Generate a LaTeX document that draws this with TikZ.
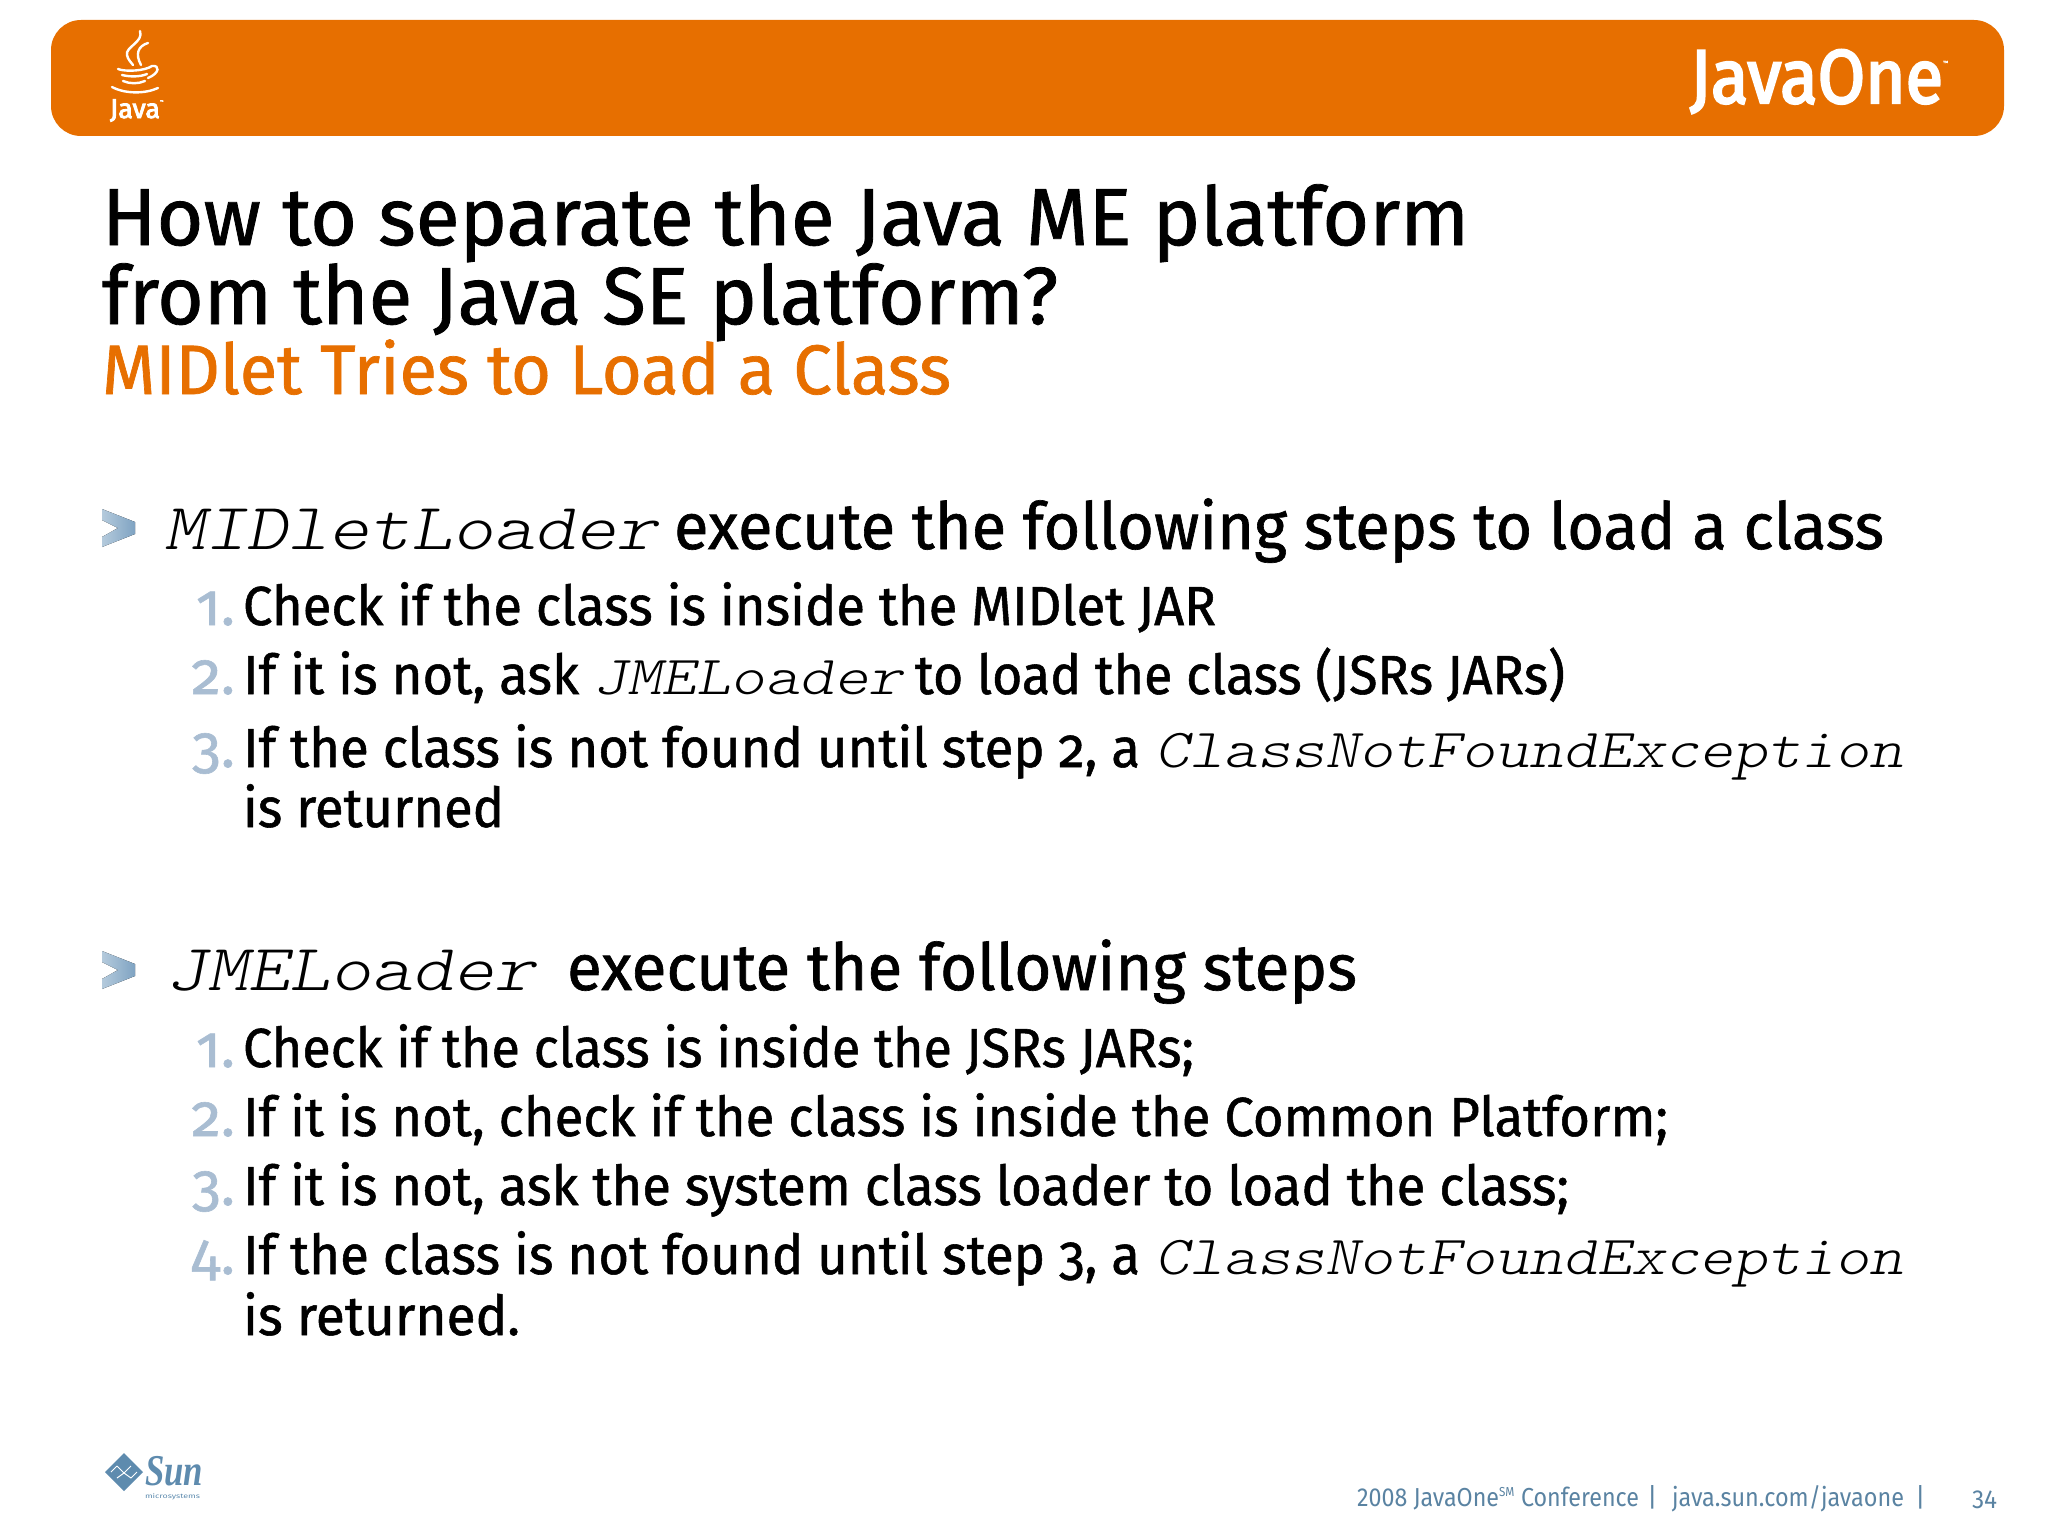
\documentclass[tikz,border=0pt]{standalone}
\usepackage{fontspec}
\usepackage{graphicx}
\setmainfont{Fira Sans}[FakeBold=1.0,Numbers=OldStyle]
\newfontfamily\regfont{Fira Sans}
\newfontfamily\logofont{Fira Sans}[FakeBold=3.2]
\newfontfamily\serifit{Liberation Serif}
\newcommand\codefont{\fontfamily{lmtt}\fontseries{l}\fontshape{sl}\selectfont}
\newcommand\fitw[2]{\resizebox{#1pt}{\height}{#2}}
\definecolor{bannerorange}{HTML}{E76F00}
\definecolor{numblue}{HTML}{A9BDD2}
\definecolor{footblue}{HTML}{5A83A2}
\definecolor{bulletdark}{HTML}{7FA3C2}
\definecolor{bulletlight}{HTML}{B4CADC}
\definecolor{sunblue}{HTML}{5E8BAE}
\tikzset{
  txt/.style={anchor=base west,inner sep=0pt,outer sep=0pt},
  titletxt/.style={txt,font=\fontsize{81}{81}\selectfont},
  subtxt/.style={txt,text=bannerorange,font=\fontsize{70}{70}\selectfont},
  headtxt/.style={txt,font=\fontsize{65}{65}\selectfont},
  headcode/.style={txt,font=\fontsize{66}{66}\selectfont\codefont},
  bodytxt/.style={txt,font=\fontsize{55}{55}\selectfont},
  bodycode/.style={txt,font=\fontsize{55}{55}\selectfont\codefont},
  numtxt/.style={anchor=base east,inner sep=0pt,outer sep=0pt,text=numblue,font=\fontsize{59}{59}\selectfont},
  foottxt/.style={txt,text=footblue,font=\fontsize{26}{26}\selectfont\regfont},
  steam/.style={draw=white,line width=2.4pt,line cap=round},
  chevron/.style={left color=bulletlight,right color=bulletdark,draw=none},
}
\begin{document}
\begin{tikzpicture}[x=1pt,y=-1pt]
\useasboundingbox (0,0) rectangle (2048,1536);
\fill[bannerorange,rounded corners=30pt] (51,20) rectangle (2004,136);
% Java logo
\draw[steam] (140,31) .. controls (144,42) and (125,47) .. (127,55) .. controls (128,60) and (131,62) .. (133,65);
\draw[steam] (148,43) .. controls (138,46) and (135,54) .. (141,65);
\draw[steam] (118,69) .. controls (125,72) and (145,71) .. (152,66) .. controls (160,65) and (160,73) .. (148,78);
\draw[steam] (122,75) .. controls (130,77) and (140,77) .. (147,74);
\draw[steam] (123,81) .. controls (130,84) and (138,84) .. (145,81);
\draw[steam] (112,87) .. controls (125,94) and (145,94) .. (158,88);
\node[txt,text=white,font=\fontsize{27}{27}\selectfont\logofont] (javaword) at (110,118) {\fitw{50}{Java}};
\node[txt,text=white,font=\fontsize{4}{4}\selectfont] (javatm) at (160,103) {™};
\node[txt,text=white,font=\fontsize{76}{76}\selectfont\logofont] (javaone) at (1690,103) {\fitw{253}{JavaOne}};
\node[txt,text=white,font=\fontsize{6}{6}\selectfont] (onetm) at (1943,65) {™};
% Title
\node[titletxt] (t1) at (102,245) {\fitw{1367}{How to separate the Java ME platform}};
\node[titletxt] (t2) at (102,324) {\fitw{956}{from the Java SE platform?}};
\node[subtxt] (t3) at (102,394) {\fitw{849}{MIDlet Tries to Load a Class}};
% Bullets
\fill[chevron] (102,509) -- (135,522) -- (135,534) -- (102,547) -- (102,537) -- (118,528) -- (102,520) -- cycle;
\fill[chevron] (102,951) -- (135,964) -- (135,976) -- (102,989) -- (102,979) -- (118,970) -- (102,962) -- cycle;
% First block
\node[headcode] (h1a) at (164,549) {\fitw{494}{MIDletLoader}};
\node[headtxt] (h1b) at (674,549) {\fitw{1210}{execute the following steps to load a class}};
\node[numtxt] (n11) at (235,625) {1.};
\node[bodytxt] (a1) at (243,625) {\fitw{973}{Check if the class is inside the MIDlet JAR}};
\node[numtxt] (n12) at (235,694) {2.};
\node[bodytxt] (a2a) at (243,694) {\fitw{336}{If it is not, ask}};
\node[bodycode] (a2b) at (593,694) {\fitw{310}{JMELoader}};
\node[bodytxt] (a2c) at (915,694) {\fitw{650}{to load the class (JSRs JARs)}};
\node[numtxt] (n13) at (235,767) {3.};
\node[bodytxt] (a3a) at (243,767) {\fitw{897}{If the class is not found until step 2, a}};
\node[bodycode] (a3b) at (1155,767) {\fitw{748}{ClassNotFoundException}};
\node[bodytxt] (a3c) at (243,827) {\fitw{261}{is returned}};
% Second block
\node[headcode] (h2a) at (166,990) {\fitw{369}{JMELoader}};
\node[headtxt] (h2b) at (567,990) {\fitw{790}{execute the following steps}};
\node[numtxt] (n21) at (235,1067) {1.};
\node[bodytxt] (b1) at (243,1067) {\fitw{951}{Check if the class is inside the JSRs JARs;}};
\node[numtxt] (n22) at (235,1136) {2.};
\node[bodytxt] (b2) at (243,1136) {\fitw{1425}{If it is not, check if the class is inside the Common Platform;}};
\node[numtxt] (n23) at (235,1205) {3.};
\node[bodytxt] (b3) at (243,1205) {\fitw{1326}{If it is not, ask the system class loader to load the class;}};
\node[numtxt] (n24) at (235,1274) {4.};
\node[bodytxt] (b4a) at (243,1274) {\fitw{897}{If the class is not found until step 3, a}};
\node[bodycode] (b4b) at (1155,1274) {\fitw{748}{ClassNotFoundException}};
\node[bodytxt] (b4c) at (243,1335) {\fitw{277}{is returned.}};
% Sun logo
\fill[sunblue] (124,1453) -- (143,1472) -- (124,1491) -- (105,1472) -- cycle;
\draw[white,line width=1pt] (117,1466) -- (124,1473) -- (131,1466) (117,1478) -- (124,1473) -- (131,1478) (111,1472) -- (117,1466) (137,1472) -- (131,1478);
\node[txt,text=sunblue,font=\fontsize{44}{44}\selectfont\serifit\bfseries\itshape] (sunword) at (145,1485) {\fitw{58}{Sun}};
\node[txt,text=sunblue,font=\fontsize{6.5}{6.5}\selectfont\regfont] (sunmicro) at (145,1498) {\fitw{55}{microsystems}};
% Footer
\node[foottxt] (f1) at (1357,1506) {\fitw{282}{2008 JavaOne\textsuperscript{\fontsize{13}{13}\selectfont SM} Conference}};
\node[foottxt] (f2) at (1647,1506) {|};
\node[foottxt] (f3) at (1672,1506) {\fitw{232}{java.sun.com/javaone}};
\node[foottxt] (f4) at (1915,1506) {|};
\node[foottxt] (f5) at (1972,1508) {\fitw{25}{34}};
\end{tikzpicture}
\end{document}
